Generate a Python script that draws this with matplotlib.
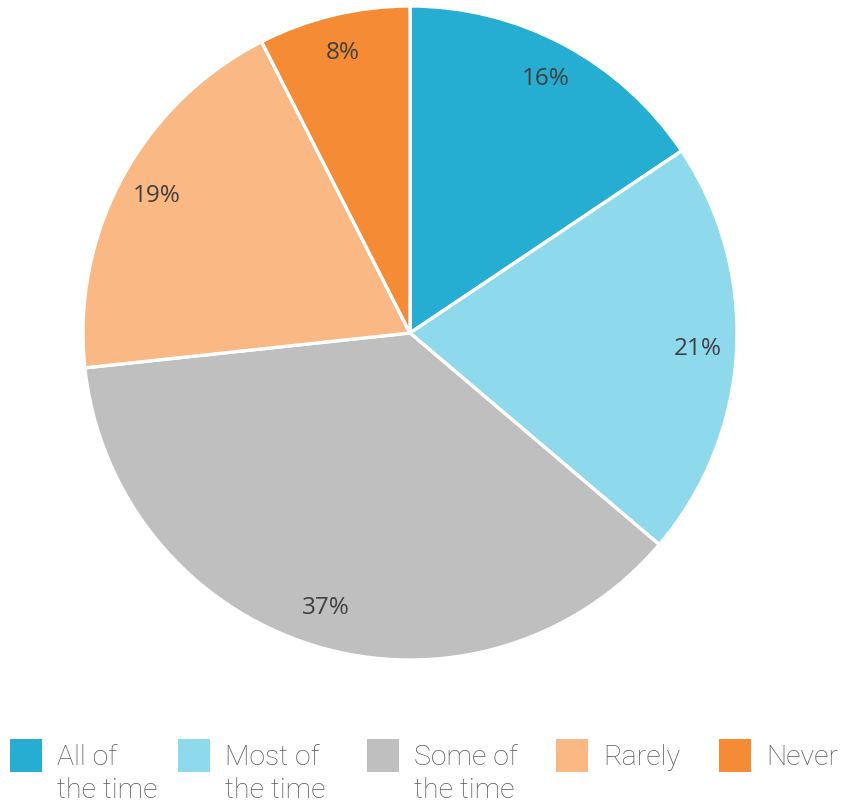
import matplotlib
matplotlib.use("Agg")
import matplotlib.pyplot as plt
from matplotlib.patches import Rectangle

categories = ["All of\nthe time", "Most of\nthe time", "Some of\nthe time", "Rarely", "Never"]
values = [15.6, 20.6, 37.1, 19.2, 7.5]
pct_labels = ["16%", "21%", "37%", "19%", "8%"]
colors = ["#25AED2", "#8ED9EC", "#BFBFBF", "#F9B884", "#F58B34"]

W, H = 843, 805
fig = plt.figure(figsize=(W / 100, H / 100), dpi=100)
fig.patch.set_facecolor("white")

cx, cy, r = 410, 333, 327
ax = fig.add_axes([(cx - r) / W, (H - cy - r) / H, 2 * r / W, 2 * r / H])

it = iter(pct_labels)
wedges, texts, autotexts = ax.pie(
    values, colors=colors, startangle=90, counterclock=False,
    autopct=lambda p: next(it), pctdistance=0.88,
    wedgeprops=dict(edgecolor="white", linewidth=2.4),
    textprops=dict(fontsize=17.5, color="#404040", family=["Open Sans", "DejaVu Sans"]),
)
ax.set_xlim(-1, 1)
ax.set_ylim(-1, 1)
ax.set_aspect("equal")
ax.axis("off")

# legend (manual layout)
leg_x = [10, 178, 367, 556, 719]
sq_w, sq_h = 32, 33
sq_top = 739
baselines = [765, 798]
for x, w, lab in zip(leg_x, wedges, categories):
    fig.patches.append(Rectangle((x / W, (H - sq_top - sq_h) / H), sq_w / W, sq_h / H,
                                 transform=fig.transFigure, facecolor=w.get_facecolor(),
                                 edgecolor="none"))
    for line, b in zip(lab.split("\n"), baselines):
        fig.text((x + 47) / W, (H - b) / H, line, ha="left", va="baseline",
                 fontsize=20.5, color="#595959",
                 family=["Roboto", "DejaVu Sans"], fontweight="light")

fig.savefig("out.png", dpi=100)
